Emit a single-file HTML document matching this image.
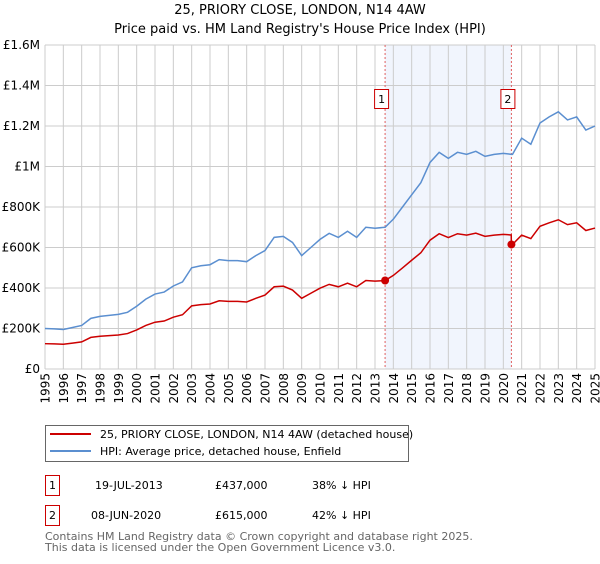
<!DOCTYPE html>
<html><head><meta charset="utf-8">
<style>
body{margin:0;background:#fff;font-family:"DejaVu Sans","Liberation Sans",sans-serif;}
svg text{font-family:"DejaVu Sans","Liberation Sans",sans-serif;}
</style></head>
<body>
<svg id="chart" width="600" height="560" xmlns="http://www.w3.org/2000/svg">
<text x="300" y="14" text-anchor="middle" font-size="13">25, PRIORY CLOSE, LONDON, N14 4AW</text>
<text x="300" y="33" text-anchor="middle" font-size="13">Price paid vs. HM Land Registry's House Price Index (HPI)</text>
<g id="plot"></g>
<g>
<rect x="45.5" y="425.5" width="363" height="36" fill="#fff" stroke="#666"/>
<line x1="50" y1="434" x2="91" y2="434" stroke="#cc0000" stroke-width="2"/>
<text x="100" y="438" font-size="11">25, PRIORY CLOSE, LONDON, N14 4AW (detached house)</text>
<line x1="50" y1="451" x2="91" y2="451" stroke="#5b8fd0" stroke-width="2"/>
<text x="100" y="455" font-size="11">HPI: Average price, detached house, Enfield</text>
</g>
<g font-size="11">
<rect x="45.5" y="475.5" width="14" height="20" fill="none" stroke="#cc0000"/>
<text x="52.5" y="489" text-anchor="middle">1</text>
<text x="95" y="489">19-JUL-2013</text>
<text x="215" y="489">£437,000</text>
<text x="312" y="489">38% ↓ HPI</text>
<rect x="45.5" y="505.5" width="14" height="20" fill="none" stroke="#cc0000"/>
<text x="52.5" y="519" text-anchor="middle">2</text>
<text x="91" y="519">08-JUN-2020</text>
<text x="215" y="519">£615,000</text>
<text x="312" y="519">42% ↓ HPI</text>
</g>
<text x="45" y="540" font-size="11" fill="#666">Contains HM Land Registry data © Crown copyright and database right 2025.</text>
<text x="45" y="551" font-size="11" fill="#666">This data is licensed under the Open Government Licence v3.0.</text>
</svg>
<script>
const years = [1995,1996,1997,1998,1999,2000,2001,2002,2003,2004,2005,2006,2007,2008,2009,2010,2011,2012,2013,2014,2015,2016,2017,2018,2019,2020,2021,2022,2023,2024,2025];
const yTicks = [0,200000,400000,600000,800000,1000000,1200000,1400000,1600000];
const yTickLabels = ["£0","£200K","£400K","£600K","£800K","£1M","£1.2M","£1.4M","£1.6M"];
const hpiTimes = [1995,1995.5,1996,1996.5,1997,1997.5,1998,1998.5,1999,1999.5,2000,2000.5,2001,2001.5,2002,2002.5,2003,2003.5,2004,2004.5,2005,2005.5,2006,2006.5,2007,2007.5,2008,2008.5,2009,2009.5,2010,2010.5,2011,2011.5,2012,2012.5,2013,2013.55,2014,2014.5,2015,2015.5,2016,2016.5,2017,2017.5,2018,2018.5,2019,2019.5,2020,2020.44,2020.5,2021,2021.5,2022,2022.5,2023,2023.5,2024,2024.5,2025];
const hpiValues = [200000,198000,195000,205000,215000,250000,260000,265000,270000,280000,310000,345000,370000,380000,410000,430000,500000,510000,515000,540000,535000,535000,530000,560000,585000,650000,655000,625000,560000,600000,640000,670000,650000,680000,650000,700000,695000,700000,740000,800000,860000,920000,1020000,1070000,1040000,1070000,1060000,1075000,1050000,1060000,1065000,1060000,1060000,1140000,1110000,1215000,1245000,1270000,1230000,1245000,1180000,1200000];
const priceTimes = [1995,1995.5,1996,1996.5,1997,1997.5,1998,1998.5,1999,1999.5,2000,2000.5,2001,2001.5,2002,2002.5,2003,2003.5,2004,2004.5,2005,2005.5,2006,2006.5,2007,2007.5,2008,2008.5,2009,2009.5,2010,2010.5,2011,2011.5,2012,2012.5,2013,2013.55,2014,2014.5,2015,2015.5,2016,2016.5,2017,2017.5,2018,2018.5,2019,2019.5,2020,2020.43,2020.44,2020.5,2021,2021.5,2022,2022.5,2023,2023.5,2024,2024.5,2025];
const priceValues = [125000,124000,122000,128000,134000,156000,162000,165000,168000,175000,193000,215000,231000,237000,256000,268000,312000,318000,321000,337000,334000,334000,331000,349000,365000,406000,409000,390000,349000,374000,399000,418000,406000,424000,406000,437000,434000,437000,462000,499000,537000,574000,636000,668000,649000,668000,661000,671000,655000,661000,665000,662000,615000,615000,661000,644000,705000,722000,737000,713000,722000,684000,696000];
const saleLabels = ["1","2"];
const saleTimes = [2013.55,2020.44];
const saleValues = [437000,615000];

const X0=45,X1=595,Y0=369,Y1=45;
const x = t => X0 + (t-1995)/30*(X1-X0);
const y = v => Y0 - v/1600000*(Y0-Y1);
const NS="http://www.w3.org/2000/svg";
const g=document.getElementById('plot');
function mk(tag,attrs){const e=document.createElementNS(NS,tag);for(const k in attrs)e.setAttribute(k,attrs[k]);g.appendChild(e);return e;}

const shade=mk('rect',{x:x(saleTimes[0]),y:Y1,width:x(saleTimes[1])-x(saleTimes[0]),height:Y0-Y1,fill:'#eef3fd',opacity:0.8});


yTicks.forEach((v,i)=>{
  const l=mk('line',{x1:X0,x2:X1,y1:y(v),y2:y(v),stroke:'#ccc'});
  
  
  const t=mk('text',{x:X0-5,y:y(v)+4,'text-anchor':'end','font-size':12});
  t.textContent=yTickLabels[i];
  
  
});
years.forEach(yr=>{
  const l=mk('line',{x1:x(yr),x2:x(yr),y1:Y1,y2:Y0,stroke:'#ccc'});
  
  
  const tx=x(yr)+4.5;
  const t=mk('text',{x:tx,y:373,'text-anchor':'end','font-size':12,transform:'rotate(-90 '+tx+' 373)'});
  t.textContent=yr;
  
  
});
saleTimes.forEach((s,i)=>{
  const l=mk('line',{x1:x(s),x2:x(s),y1:Y1,y2:Y0,stroke:'#e06060','stroke-dasharray':'2,2'});
  
  
  const r=mk('rect',{x:x(s)-10.5,y:89.5,width:14,height:19,fill:'#fff',stroke:'#cc0000'});
  
  
  const t=mk('text',{x:x(s)-3.5,y:103,'text-anchor':'middle','font-size':11});
  t.textContent=saleLabels[i];
  
  
});
const hp=mk('polyline',{points:hpiTimes.map((t,i)=>x(t)+','+y(hpiValues[i])).join(' '),fill:'none',stroke:'#5b8fd0','stroke-width':1.5});


const pp=mk('polyline',{points:priceTimes.map((t,i)=>x(t)+','+y(priceValues[i])).join(' '),fill:'none',stroke:'#cc0000','stroke-width':1.5});


saleTimes.forEach((s,i)=>{
  const c=mk('circle',{cx:x(s),cy:y(saleValues[i]),r:4,fill:'#cc0000'});
  
  
});
const ax=mk('line',{x1:X0,x2:X1,y1:Y0,y2:Y0,stroke:'#ccc'});


</script>
</body></html>
